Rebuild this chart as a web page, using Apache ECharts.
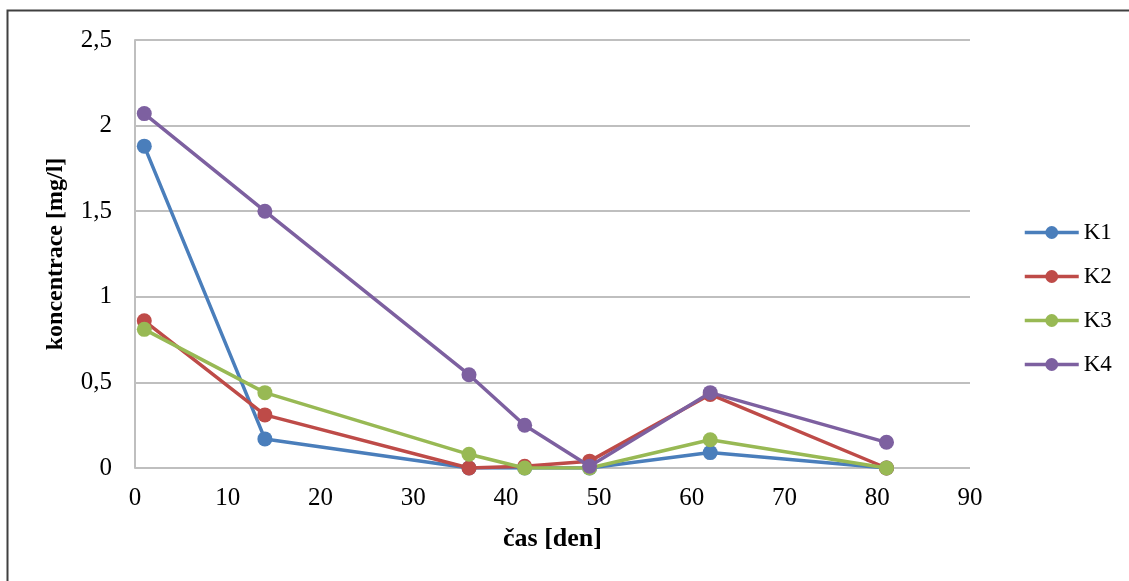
<!DOCTYPE html>
<html>
<head>
<meta charset="utf-8">
<script src="https://cdn.jsdelivr.net/npm/echarts@6/dist/echarts.min.js"></script>
<style>html,body{margin:0;padding:0;background:#fff}#c{width:1129px;height:581px}</style>
</head>
<body>
<div id="c"></div>
<script>
const days = [1, 14, 36, 42, 49, 62, 81];
const seriesNames = ['K1', 'K2', 'K3', 'K4'];
const K1 = [1.88, 0.17, 0.0, 0.0, 0.0, 0.09, 0.0];
const K2 = [0.86, 0.31, 0.0, 0.01, 0.04, 0.43, 0.0];
const K3 = [0.81, 0.44, 0.08, 0.0, 0.0, 0.165, 0.0];
const K4 = [2.07, 1.50, 0.545, 0.25, 0.01, 0.44, 0.15];
const colors = ['#4a7ebb', '#be4b48', '#98b954', '#7d60a0'];

const chart = echarts.init(document.getElementById('c'), null, {renderer: 'canvas'});
const font = '"Liberation Serif", "Times New Roman", serif';
const vals = [K1, K2, K3, K4];
chart.setOption({
  animation: false,
  textStyle: {fontFamily: font},
  graphic: [{
    type: 'rect', shape: {x: 7.5, y: 10.5, width: 1300, height: 800},
    style: {fill: 'none', stroke: '#404040', lineWidth: 2}, silent: true, z: 100
  }],
  grid: {left: 135, right: 159, top: 40, bottom: 113, containLabel: false},
  legend: {
    orient: 'vertical', left: 1018, top: 216, itemGap: 21,
    itemWidth: 54, itemHeight: 16,
    lineStyle: {width: 3.5},
    textStyle: {fontFamily: font, fontSize: 23, color: '#000'},
    data: seriesNames
  },
  xAxis: {
    type: 'value', min: 0, max: 90, interval: 10,
    name: 'čas [den]', nameLocation: 'middle', nameGap: 58,
    nameTextStyle: {fontFamily: font, fontSize: 26, fontWeight: 'bold', color: '#000'},
    axisLine: {show: false}, axisTick: {show: false}, splitLine: {show: false},
    axisLabel: {fontFamily: font, fontSize: 25, color: '#000', margin: 18}
  },
  yAxis: {
    type: 'value', min: 0, max: 2.5, interval: 0.5,
    name: 'koncentrace [mg/l]', nameLocation: 'middle', nameGap: 67,
    nameTextStyle: {fontFamily: font, fontSize: 24, fontWeight: 'bold', color: '#000'},
    axisLine: {show: true, lineStyle: {color: '#bfbfbf', width: 2}},
    axisTick: {show: false},
    splitLine: {show: true, lineStyle: {color: '#bfbfbf', width: 2}},
    axisLabel: {fontFamily: font, fontSize: 25, color: '#000', margin: 23,
      formatter: v => String(v).replace('.', ',')}
  },
  series: seriesNames.map((n, i) => ({
    name: n, type: 'line',
    data: days.map((d, j) => [d, vals[i][j]]),
    symbol: 'circle', symbolSize: 15,
    lineStyle: {color: colors[i], width: 3.5},
    itemStyle: {color: colors[i]},
    z: 2 + i
  }))
});
</script>
</body>
</html>
